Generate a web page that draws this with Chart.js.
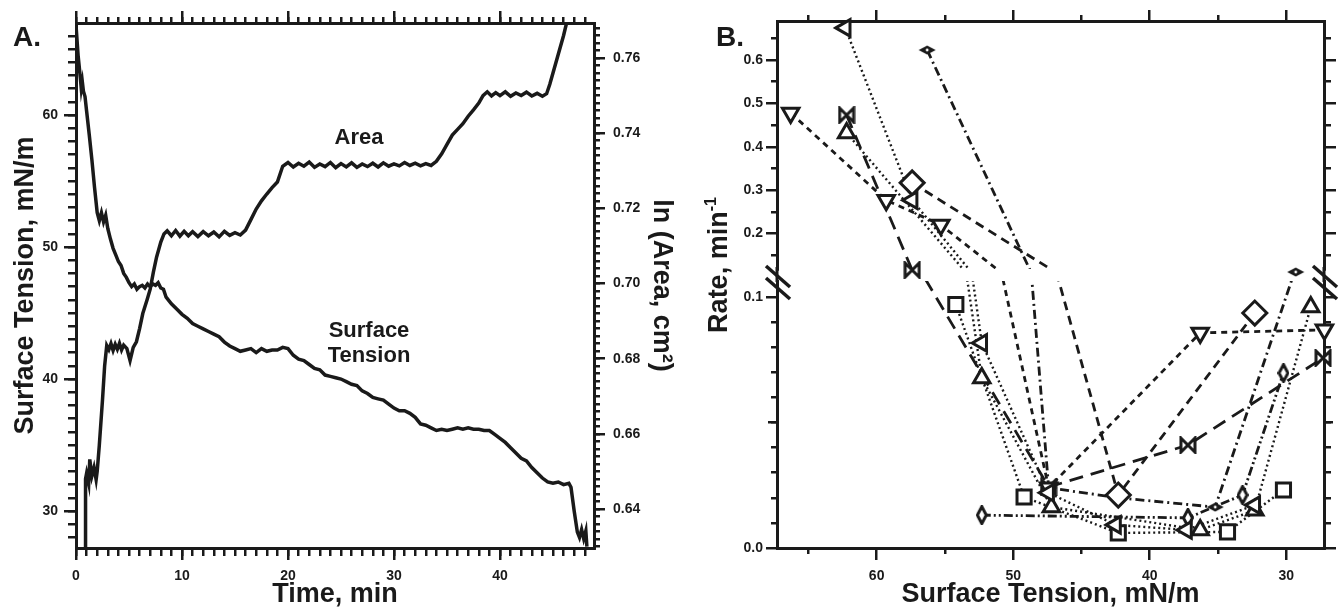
<!DOCTYPE html>
<html><head><meta charset="utf-8">
<script src="https://cdn.jsdelivr.net/npm/chart.js@4.4.1/dist/chart.umd.min.js"></script>
<style>
html,body{margin:0;padding:0;background:#fff;width:1339px;height:607px;overflow:hidden;}
#wrap{position:relative;width:1339px;height:607px;font-family:"Liberation Sans",Arial,Helvetica,sans-serif;color:#1a1a1a;}
canvas{position:absolute;top:0;}
.lbl{position:absolute;font-weight:bold;white-space:nowrap;line-height:1;transform:translate(-50%,-50%);text-align:center;}
</style></head>
<body><div id="wrap">
<canvas id="cA" width="690" height="607" style="left:0"></canvas>
<canvas id="cBl" width="649" height="607" style="left:690px"></canvas>
<canvas id="cBu" width="649" height="607" style="left:690px"></canvas>
<div class="lbl" style="left:27px;top:37px;font-size:28px;">A.</div>
<div class="lbl" style="left:730px;top:37px;font-size:28px;">B.</div>
<div class="lbl" style="left:359px;top:137px;font-size:22px;">Area</div>
<div class="lbl" style="left:369px;top:342px;font-size:22px;line-height:25px;">Surface<br>Tension</div>
<div class="lbl" style="left:718px;top:265px;font-size:27px;transform:translate(-50%,-50%) rotate(-90deg);">Rate, min<span style="font-size:16px;position:relative;top:-11px;">-1</span></div>
</div>
<script>
const INK = '#1a1a1a';
Chart.defaults.font.family = '"Liberation Sans", Arial, Helvetica, sans-serif';
Chart.defaults.color = INK;

// ---------- Panel A data ----------
const timeST = [0,0.2,0.4,0.5,0.6,0.7,0.85,1.0,1.25,1.5,1.75,2.0,2.2,2.4,2.6,2.8,3.0,3.25,3.5,3.75,4.0,4.25,4.5,4.75,5.0,5.25,5.5,5.75,6.0,6.25,6.5,6.75,7.0,7.25,7.5,7.75,8.0,8.25,8.5,9.0,9.5,10.0,10.5,11.0,11.5,12.0,12.5,13.0,13.5,14.0,14.5,15.0,15.5,16.0,16.5,17.0,17.5,18.0,18.5,19.0,19.5,20.0,20.5,21.0,21.5,22.0,22.5,23.0,23.5,24.0,24.5,25.0,25.5,26.0,26.5,27.0,27.5,28.0,28.5,29.0,29.5,30.0,30.5,31.0,31.5,32.0,32.5,33.0,33.5,34.0,34.5,35.0,35.5,36.0,36.5,37.0,37.5,38.0,38.5,39.0,39.5,40.0,40.5,41.0,41.5,42.0,42.5,43.0,43.5,44.0,44.5,45.0,45.5,46.0,46.5,46.7,47.0,47.3,47.5,47.7,47.9,48.1,48.2];
const surfaceTension = [66.8,64.5,62.9,62.0,62.5,61.8,61.4,60.3,58.5,56.6,54.5,52.6,52.0,52.6,51.9,52.4,51.4,50.6,49.9,49.4,48.9,48.6,48.0,47.7,47.3,47.0,47.2,46.8,47.0,47.1,46.9,47.2,47.0,47.2,47.1,47.3,46.9,46.8,46.2,45.7,45.3,44.9,44.6,44.2,44.0,43.8,43.6,43.4,43.2,42.8,42.5,42.3,42.1,42.2,42.3,42.0,42.3,42.1,42.2,42.2,42.4,42.3,41.8,41.5,41.4,41.1,40.8,40.7,40.3,40.2,40.1,40.0,39.8,39.6,39.5,39.1,38.9,38.6,38.5,38.4,38.1,37.8,37.6,37.6,37.4,37.1,36.6,36.5,36.3,36.1,36.2,36.1,36.2,36.3,36.2,36.3,36.2,36.2,36.1,36.1,35.8,35.5,35.2,34.8,34.4,34.0,33.8,33.3,32.9,32.5,32.2,32.1,32.2,32.0,32.1,31.8,30.0,28.4,28.0,28.6,27.9,28.5,27.3];
const timeArea = [0.85,0.9,1.0,1.2,1.3,1.5,1.7,1.9,2.0,2.2,2.5,2.7,2.9,3.1,3.3,3.5,3.7,3.9,4.1,4.3,4.5,4.8,5.1,5.4,5.7,6.0,6.3,6.7,7.0,7.3,7.6,8.0,8.3,8.6,9.0,9.4,9.8,10.2,10.6,11.0,11.5,12.0,12.5,13.0,13.5,14.0,14.5,15.0,15.5,16.0,16.5,17.0,17.5,18.0,18.5,19.0,19.5,20.0,20.5,21.0,21.5,22.0,22.5,23.0,23.5,24.0,24.5,25.0,25.5,26.0,26.5,27.0,27.5,28.0,28.5,29.0,29.5,30.0,30.5,31.0,31.5,32.0,32.5,33.0,33.5,34.0,34.5,35.0,35.5,36.0,36.5,37.0,37.5,38.0,38.4,38.8,39.2,39.6,40.0,40.5,41.0,41.5,42.0,42.5,43.0,43.5,44.0,44.4,44.7,45.0,45.5,46.0,46.3];
const lnArea = [0.6290,0.6480,0.6495,0.6468,0.6532,0.6488,0.6510,0.6478,0.6500,0.6570,0.6690,0.6780,0.6835,0.6824,0.6840,0.6822,0.6838,0.6825,0.6841,0.6823,0.6836,0.6827,0.6795,0.6830,0.6845,0.6880,0.6920,0.6956,0.6985,0.7030,0.7070,0.7110,0.7132,0.7140,0.7127,0.7141,0.7126,0.7139,0.7127,0.7138,0.7125,0.7138,0.7127,0.7137,0.7124,0.7139,0.7128,0.7135,0.7129,0.7142,0.7170,0.7198,0.7220,0.7238,0.7255,0.7270,0.7312,0.7322,0.7310,0.7320,0.7312,0.7323,0.7309,0.7318,0.7311,0.7322,0.7308,0.7319,0.7310,0.7321,0.7309,0.7318,0.7311,0.7320,0.7310,0.7321,0.7312,0.7318,0.7313,0.7322,0.7314,0.7320,0.7313,0.7319,0.7314,0.7325,0.7345,0.7370,0.7395,0.7410,0.7425,0.7445,0.7462,0.7480,0.7500,0.7510,0.7499,0.7508,0.7500,0.7510,0.7498,0.7507,0.7500,0.7509,0.7499,0.7506,0.7498,0.7505,0.7530,0.7560,0.7610,0.7660,0.7695];

const aTimeMajor = [0,10,20,30,40];
const aTimeLabels = ['0','10','20','30','40'];
const aSTMajor = [30,40,50,60];
const aSTLabels = ['30','40','50','60'];
const aAreaMajor = [0.64,0.66,0.68,0.70,0.72,0.74,0.76];
const aAreaLabels = ['0.64','0.66','0.68','0.70','0.72','0.74','0.76'];

// ---------- Panel B data ----------
const bST_leftTri   = [62.3, 57.4, 52.3, 47.4, 42.5, 37.3, 32.3];
const bRate_leftTri = [0.674, 0.277, 0.0817, 0.022, 0.0092, 0.0072, 0.0171];
const bST_downTri   = [66.3, 59.3, 55.3, 47.4, 36.3, 27.2];
const bRate_downTri = [0.478, 0.277, 0.220, 0.024, 0.0857, 0.0869];
const bST_bowtie    = [62.2, 57.4, 47.4, 37.2, 27.3];
const bRate_bowtie  = [0.473, 0.116, 0.0243, 0.041, 0.0757];
const bST_upTri     = [62.2, 52.3, 47.2, 36.3, 32.3, 28.2];
const bRate_upTri   = [0.432, 0.0677, 0.0163, 0.0072, 0.0150, 0.096];
const bST_diamond   = [57.4, 42.3, 32.3];
const bRate_diamond = [0.317, 0.0211, 0.0936];
const bST_lens      = [56.3, 47.4, 42.3, 35.2, 29.3];
const bRate_lens    = [0.623, 0.024, 0.020, 0.0163, 0.1115];
const bST_thin      = [52.3, 37.2, 33.2, 30.2];
const bRate_thin    = [0.0131, 0.012, 0.0211, 0.0697];
const bST_square    = [54.2, 49.2, 42.3, 34.3, 30.2];
const bRate_square  = [0.097, 0.0203, 0.006, 0.0064, 0.0231];

const bSTMajor = [60,50,40,30];
const bSTLabels = ['60','50','40','30'];
const bSTMinor = [65,55,45,35];
const bRateUpperMajor = [0.2,0.3,0.4,0.5,0.6];
const bRateUpperLabels = ['0.2','0.3','0.4','0.5','0.6'];
const bRateUpperMinor = [0.15,0.25,0.35,0.45,0.55,0.65];
const bRateLowerMajor = [0, 0.1];
const bRateLowerLabels = ['0.0','0.1'];
const bRateLowerMid = [0.05];

function range(a, b, s) { const out = []; for (let v = a; v <= b + 1e-9; v += s) out.push(Math.round(v * 10000) / 10000); return out; }

function ax(o) {
  return {
    type: 'linear', position: o.pos, min: o.min, max: o.max, reverse: !!o.rev, weight: o.w, bounds: 'data',
    afterBuildTicks: s => { s.ticks = o.ticks.map(v => ({ value: v })); },
    afterFit: s => { if (o.pos === 'top' || o.pos === 'bottom') s.height = o.size; else s.width = o.size; },
    border: { display: true, width: 3, color: INK },
    grid: { display: true, drawOnChartArea: false, drawTicks: true, tickLength: o.len, tickWidth: 2.5, tickColor: INK, color: INK, lineWidth: 2.5 },
    ticks: o.labels ? { display: true, autoSkip: false, maxRotation: 0, minRotation: 0, padding: o.pad, color: INK, font: { size: 14, weight: 'bold' }, callback: (v, i) => o.labels[i] } : { display: false },
    title: o.title ? { display: true, text: o.title, color: INK, font: { size: 27, weight: 'bold', lineHeight: 1.2 }, padding: o.tpad || 0 } : { display: false }
  };
}

// ---------- Chart A ----------
const A_X = [0, 48.87], A_Y = [27.2, 66.97], A_R = [0.62962, 0.76931];
new Chart(document.getElementById('cA'), {
  type: 'line',
  data: { datasets: [
    { data: timeST.map((t, i) => ({ x: t, y: surfaceTension[i] })), xAxisID: 'x', yAxisID: 'y', borderColor: INK, borderWidth: 3.5, pointRadius: 0, tension: 0, fill: false },
    { data: timeArea.map((t, i) => ({ x: t, y: lnArea[i] })), xAxisID: 'x', yAxisID: 'yr', borderColor: INK, borderWidth: 3.5, pointRadius: 0, tension: 0, fill: false }
  ]},
  options: {
    responsive: false, animation: false, devicePixelRatio: 1, events: [],
    plugins: { legend: { display: false }, tooltip: { enabled: false } },
    layout: { padding: { left: 9, right: 12, top: 0, bottom: 0 } },
    scales: {
      x:   ax({ pos: 'bottom', min: A_X[0], max: A_X[1], w: 1, size: 59, len: 12, ticks: aTimeMajor, labels: aTimeLabels, pad: 8, title: 'Time, min', tpad: { top: 0, bottom: -4 } }),
      xm:  ax({ pos: 'bottom', min: A_X[0], max: A_X[1], w: 0, size: 0, len: 8, ticks: range(0, 48, 1) }),
      xt:  ax({ pos: 'top', min: A_X[0], max: A_X[1], w: 1, size: 23, len: 12, ticks: aTimeMajor }),
      xtm: ax({ pos: 'top', min: A_X[0], max: A_X[1], w: 0, size: 0, len: 6, ticks: range(0, 48, 1) }),
      y:   ax({ pos: 'left', min: A_Y[0], max: A_Y[1], w: 1, size: 67, len: 12, ticks: aSTMajor, labels: aSTLabels, pad: 6, title: 'Surface Tension, mN/m', tpad: { top: 0, bottom: 0 } }),
      ym:  ax({ pos: 'left', min: A_Y[0], max: A_Y[1], w: 0, size: 0, len: 8, ticks: range(28, 66, 1) }),
      yr:  ax({ pos: 'right', min: A_R[0], max: A_R[1], w: 1, size: 84, len: 11, ticks: aAreaMajor, labels: aAreaLabels, pad: 8, title: 'ln (Area, cm²)', tpad: { top: 0, bottom: 0 } }),
      yrm: ax({ pos: 'right', min: A_R[0], max: A_R[1], w: 0, size: 0, len: 6, ticks: range(0.63, 0.768, 0.002) })
    }
  }
});

// ---------- Panel B markers ----------
function mk(w, h, draw) { const c = document.createElement('canvas'); c.width = w; c.height = h; const g = c.getContext('2d'); g.strokeStyle = INK; g.fillStyle = '#fff'; g.lineWidth = 3; g.lineJoin = 'miter'; draw(g, w, h); return c; }
const bowtieImg = mk(18, 18, (g, w, h) => { g.beginPath(); g.moveTo(2, 2); g.lineTo(w - 2, h - 2); g.lineTo(w - 2, 2); g.lineTo(2, h - 2); g.closePath(); g.fill(); g.stroke(); });
const lensImg = mk(18, 10, (g, w, h) => { g.fillStyle = INK; g.beginPath(); g.moveTo(0.5, h / 2); g.lineTo(w / 2, 0.5); g.lineTo(w - 0.5, h / 2); g.lineTo(w / 2, h - 0.5); g.closePath(); g.fill(); g.fillStyle = '#fff'; g.beginPath(); g.arc(w / 2, h / 2, 1.4, 0, Math.PI * 2); g.fill(); });
const thinImg = mk(12, 20, (g, w, h) => { g.beginPath(); g.moveTo(w / 2, 1.5); g.lineTo(w - 1.5, h / 2); g.lineTo(w / 2, h - 1.5); g.lineTo(1.5, h / 2); g.closePath(); g.fill(); g.stroke(); });

const bSeries = [
  { st: bST_leftTri, rate: bRate_leftTri, style: 'triangle', rot: 270, r: 9.5, dash: [2, 3], lw: 2.4 },
  { st: bST_downTri, rate: bRate_downTri, style: 'triangle', rot: 180, r: 9.5, dash: [6, 5], lw: 2.8 },
  { st: bST_bowtie, rate: bRate_bowtie, style: bowtieImg, rot: 0, r: 7, dash: [14, 8], lw: 2.8 },
  { st: bST_upTri, rate: bRate_upTri, style: 'triangle', rot: 0, r: 9.5, dash: [2, 3], lw: 2.4 },
  { st: bST_diamond, rate: bRate_diamond, style: 'rectRot', rot: 0, r: 12, dash: [9, 6], lw: 2.8 },
  { st: bST_lens, rate: bRate_lens, style: lensImg, rot: 0, r: 7, dash: [9, 4, 2, 4], lw: 2.8 },
  { st: bST_thin, rate: bRate_thin, style: thinImg, rot: 0, r: 7, dash: [9, 3, 2, 3, 2, 3], lw: 2.8 },
  { st: bST_square, rate: bRate_square, style: 'rect', rot: 0, r: 10, dash: [2, 3], lw: 2.4 }
];
const SPLIT = 0.105;
function bDatasets(isUpper) {
  const ds = [];
  bSeries.forEach(s => {
    const pts = s.st.map((x, i) => ({ x: x, y: s.rate[i] }));
    ds.push({ data: pts, xAxisID: 'x', yAxisID: 'y', borderColor: INK, borderWidth: s.lw, borderDash: s.dash, pointRadius: 0, tension: 0, fill: false, clip: 0, order: 1 });
    ds.push({ data: pts, xAxisID: 'x', yAxisID: 'y', showLine: false, pointStyle: s.style, pointRotation: s.rot,
      pointRadius: ctx => ((ctx.raw && ctx.raw.y > SPLIT) === isUpper ? s.r : 0),
      pointBorderWidth: 3, pointBorderColor: INK, pointBackgroundColor: '#fff', clip: false, order: 0 });
  });
  return ds;
}
const B_X = [27.23, 67.30];
const B_UP = [0.11843, 0.68986];
const B_LO = [0, 0.10637];

// upper part of the broken axis
new Chart(document.getElementById('cBu'), {
  type: 'line',
  data: { datasets: bDatasets(true) },
  options: {
    responsive: false, animation: false, devicePixelRatio: 1, events: [],
    plugins: { legend: { display: false }, tooltip: { enabled: false } },
    layout: { padding: { left: 0, right: 0, top: 0, bottom: 338 } },
    scales: {
      x:   ax({ pos: 'top', min: B_X[0], max: B_X[1], rev: true, w: 1, size: 21, len: 11, ticks: bSTMajor }),
      xm:  ax({ pos: 'top', min: B_X[0], max: B_X[1], rev: true, w: 0, size: 0, len: 6, ticks: bSTMinor }),
      y:   ax({ pos: 'left', min: B_UP[0], max: B_UP[1], w: 1, size: 87, len: 11, ticks: bRateUpperMajor, labels: bRateUpperLabels, pad: 3 }),
      ym:  ax({ pos: 'left', min: B_UP[0], max: B_UP[1], w: 0, size: 0, len: 6, ticks: bRateUpperMinor }),
      yr:  ax({ pos: 'right', min: B_UP[0], max: B_UP[1], w: 1, size: 13, len: 12, ticks: bRateUpperMajor }),
      yrm: ax({ pos: 'right', min: B_UP[0], max: B_UP[1], w: 0, size: 0, len: 7, ticks: bRateUpperMinor })
    }
  }
});

const breakPlugin = {
  id: 'axisBreak',
  afterDraw(ch) {
    const c = ch.ctx, a = ch.chartArea;
    c.save();
    c.strokeStyle = INK;
    [a.left, a.right].forEach(x => {
      c.lineWidth = 3;
      c.beginPath(); c.moveTo(x, 267); c.lineTo(x, a.top + 1); c.stroke();
      c.lineWidth = 3.5;
      [266, 278].forEach(y0 => { c.beginPath(); c.moveTo(x - 11, y0); c.lineTo(x + 13, y0 + 21); c.stroke(); });
    });
    c.restore();
  }
};

// lower part of the broken axis
new Chart(document.getElementById('cBl'), {
  type: 'line',
  data: { datasets: bDatasets(false) },
  plugins: [breakPlugin],
  options: {
    responsive: false, animation: false, devicePixelRatio: 1, events: [],
    plugins: { legend: { display: false }, tooltip: { enabled: false } },
    layout: { padding: { left: 0, right: 0, top: 281, bottom: 0 } },
    scales: {
      x:    ax({ pos: 'bottom', min: B_X[0], max: B_X[1], rev: true, w: 1, size: 59, len: 12, ticks: bSTMajor, labels: bSTLabels, pad: 8, title: 'Surface Tension, mN/m', tpad: { top: 0, bottom: -4 } }),
      xm:   ax({ pos: 'bottom', min: B_X[0], max: B_X[1], rev: true, w: 0, size: 0, len: 6, ticks: bSTMinor }),
      y:    ax({ pos: 'left', min: B_LO[0], max: B_LO[1], w: 2, size: 87, len: 11, ticks: bRateLowerMajor, labels: bRateLowerLabels, pad: 3 }),
      ymid: ax({ pos: 'left', min: B_LO[0], max: B_LO[1], w: 1, size: 0, len: 9, ticks: bRateLowerMid }),
      ym:   ax({ pos: 'left', min: B_LO[0], max: B_LO[1], w: 0, size: 0, len: 6, ticks: range(0.01, 0.09, 0.01) }),
      yr:   ax({ pos: 'right', min: B_LO[0], max: B_LO[1], w: 2, size: 13, len: 12, ticks: bRateLowerMajor }),
      yrmid:ax({ pos: 'right', min: B_LO[0], max: B_LO[1], w: 1, size: 0, len: 9, ticks: bRateLowerMid }),
      yrm:  ax({ pos: 'right', min: B_LO[0], max: B_LO[1], w: 0, size: 0, len: 7, ticks: range(0.01, 0.09, 0.01) })
    }
  }
});
</script>
</body></html>
